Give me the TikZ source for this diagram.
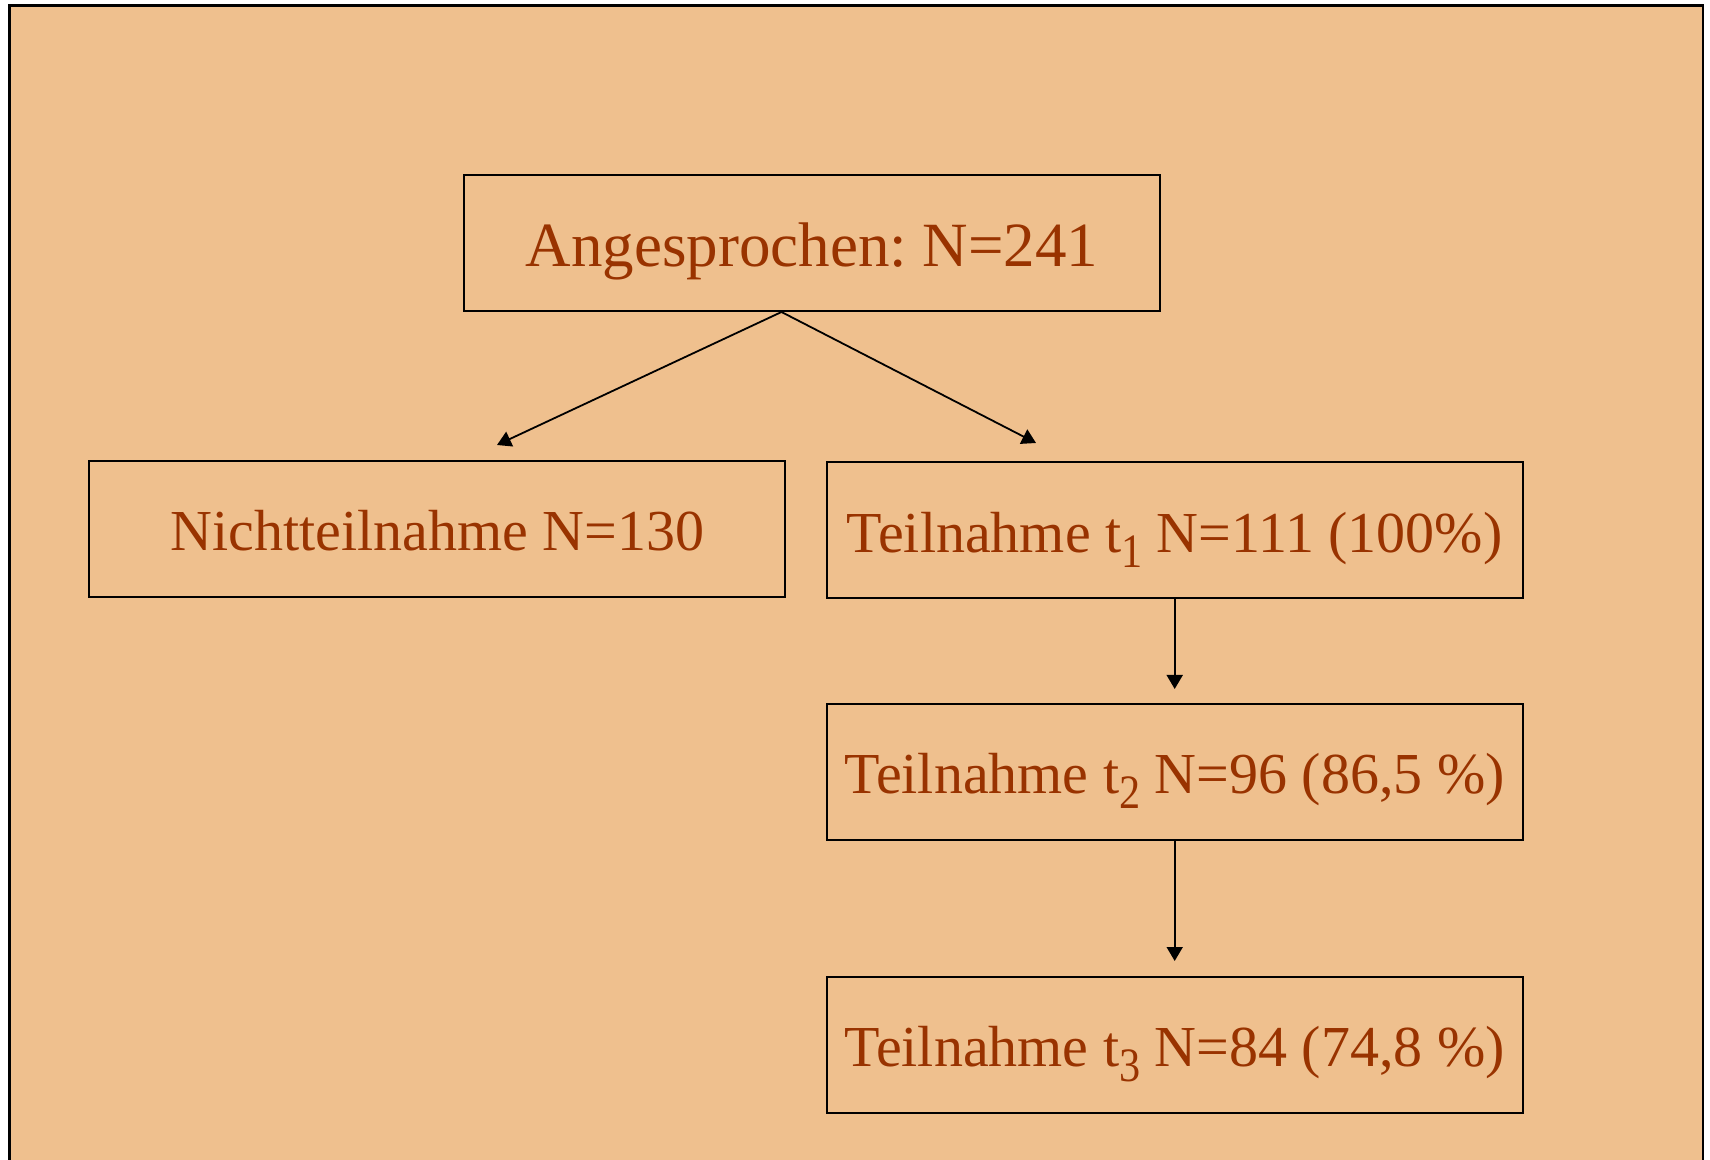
\documentclass[tikz,border=0pt]{standalone}
\usepackage{fontspec}
\setmainfont{Liberation Serif}
\usetikzlibrary{arrows.meta}
\definecolor{bgpeach}{RGB}{239,192,142}
\definecolor{txtbrown}{RGB}{153,51,0}
\newcommand{\tsub}[1]{\raisebox{-7.5pt}{\scalebox{0.88}[1]{\fontsize{24}{24}\selectfont #1}}}
\frenchspacing
\begin{document}
\frenchspacing
\begin{tikzpicture}[x=0.5pt,y=-0.5pt,
  box/.style={draw=black,line width=1pt,minimum width=348pt,minimum height=68pt,
    inner sep=0pt,text=txtbrown,font=\fontsize{29}{34}\selectfont\frenchspacing,
    text height=21.6pt,text depth=0pt},
  conn/.style={line width=0.9pt,-{Triangle[length=7pt,width=8pt]}}]
\useasboundingbox (0,0) rectangle (1710,1160);
\clip (0,0) rectangle (1710,1160);
\fill[white] (0,0) rectangle (1710,1160);
\draw[fill=bgpeach,line width=1.3pt] (9.5,5.5) rectangle (1703,1200);

\node[box,font=\fontsize{31.5}{36}\selectfont\frenchspacing,text height=23.2pt] (top) at (812,243.5) {Angesprochen: N=241};
\node[box] (nt) at (437.3,528.7) {Nichtteilnahme N=130};
\node[box] (t1) at (1174.7,530.5) {Teilnahme t\tsub{1} N=111 (100\%)};
\node[box] (t2) at (1174.7,772) {Teilnahme t\tsub{2} N=96 (86,5 \%)};
\node[box] (t3) at (1174.7,1045) {Teilnahme t\tsub{3} N=84 (74,8 \%)};

\coordinate (split) at (781.5,312);
\coordinate (ntend) at (497,445);
\coordinate (t1end) at (1036,443);
\coordinate (t2end) at (1174.7,689);
\coordinate (t3end) at (1174.7,961);

\draw[conn] (split) -- (ntend);
\draw[conn] (split) -- (t1end);
\draw[conn] (t1.south) -- (t2end);
\draw[conn] (t2.south) -- (t3end);
\end{tikzpicture}
\end{document}
